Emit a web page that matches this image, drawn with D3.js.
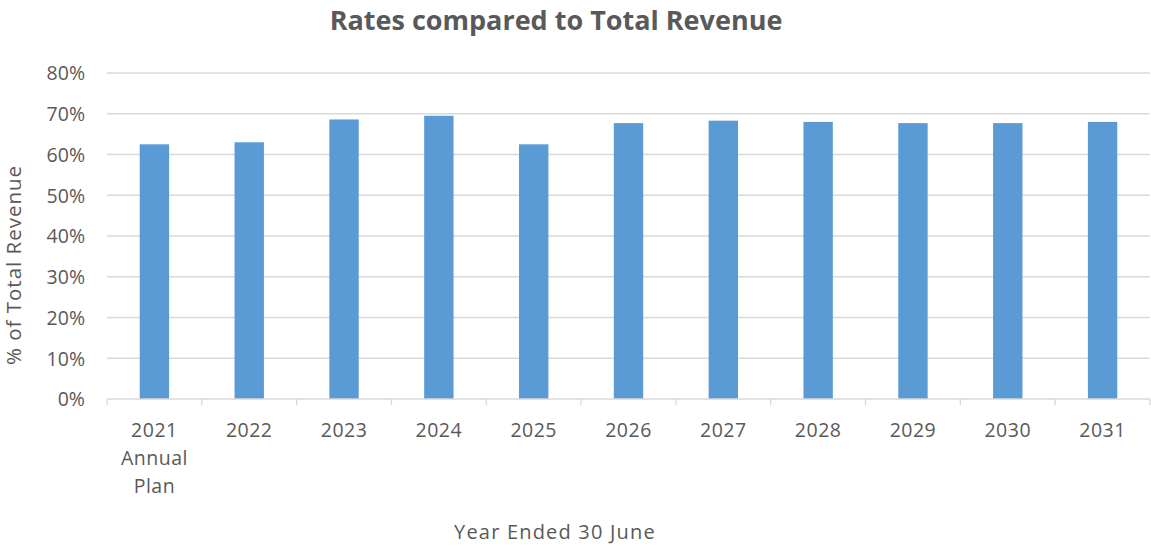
<!DOCTYPE html>
<html>
<head>
<meta charset="utf-8">
<script src="https://cdn.jsdelivr.net/npm/d3@7/dist/d3.min.js"></script>
<style>
  html, body { margin: 0; padding: 0; background: #fff; }
  svg text { font-family: "Open Sans", Lato, sans-serif; fill: #595959; }
</style>
</head>
<body>
<svg id="chart" width="1151" height="545"></svg>
<script>
// Year labels (multi-line labels split on "\n")
const categories = ["2021\nAnnual\nPlan", "2022", "2023", "2024", "2025", "2026", "2027", "2028", "2029", "2030", "2031"];
// Rates as a share of total revenue (%)
const ratesShare = [62.5, 63.0, 68.6, 69.5, 62.5, 67.7, 68.3, 68.0, 67.7, 67.7, 68.0];
// Y axis ticks (%)
const yTicks = [0, 10, 20, 30, 40, 50, 60, 70, 80];

const svg = d3.select("#chart");
const margin = { left: 107, right: 1, top: 73, bottom: 146 };
const W = 1151, H = 545;
const x0 = margin.left, x1 = W - margin.right;
const y0 = H - margin.bottom, y1 = margin.top;
const FONT = "'Open Sans', Lato, sans-serif";

const x = d3.scaleBand().domain(categories).range([x0, x1]).paddingInner(0.69).paddingOuter(0.345);
const y = d3.scaleLinear().domain([0, 80]).range([y0, y1]);

// Gridlines
svg.append("g")
  .selectAll("line")
  .data(yTicks.filter(t => t > 0))
  .join("line")
  .attr("x1", x0).attr("x2", x1)
  .attr("y1", d => y(d)).attr("y2", d => y(d))
  .attr("stroke", "#d9d9d9").attr("stroke-width", 1.3);

// Bars
svg.append("g")
  .selectAll("rect")
  .data(ratesShare)
  .join("rect")
  .attr("x", (d, i) => x(categories[i]))
  .attr("width", x.bandwidth())
  .attr("y", d => y(d))
  .attr("height", d => y(0) - y(d))
  .attr("fill", "#5b9bd5");

// Y axis labels
const yAxis = svg.append("g")
  .attr("transform", `translate(${x0 - 22},0)`)
  .call(d3.axisLeft(y).tickValues(yTicks).tickFormat(d => d + "%").tickSize(0).tickPadding(0));
yAxis.select(".domain").remove();
yAxis.selectAll("text").attr("font-size", 19.5).attr("fill", "#595959").attr("font-family", FONT).attr("dy", "0.35em");

// X axis line with tick marks at category boundaries
const xAxisG = svg.append("g");
xAxisG.append("line")
  .attr("x1", x0).attr("x2", x1).attr("y1", y0).attr("y2", y0)
  .attr("stroke", "#d9d9d9").attr("stroke-width", 1.3);
const boundaries = d3.range(categories.length + 1).map(i => x0 + i * (x1 - x0) / categories.length);
xAxisG.selectAll("line.tick")
  .data(boundaries)
  .join("line")
  .attr("class", "tick")
  .attr("x1", d => d).attr("x2", d => d)
  .attr("y1", y0).attr("y2", y0 + 6)
  .attr("stroke", "#d9d9d9").attr("stroke-width", 1.3);

// X category labels
const lbl = xAxisG.selectAll("text.cat")
  .data(categories)
  .join("text")
  .attr("class", "cat")
  .attr("x", d => x(d) + x.bandwidth() / 2)
  .attr("y", y0 + 38)
  .attr("text-anchor", "middle")
  .attr("font-size", 19.5)
  .attr("letter-spacing", 0.5);
lbl.each(function (d) {
  const t = d3.select(this);
  d.split("\n").forEach((line, i) => {
    t.append("tspan")
      .attr("x", t.attr("x"))
      .attr("dy", i === 0 ? 0 : 28)
      .text(line);
  });
});

// Title
svg.append("text")
  .attr("x", 556).attr("y", 30)
  .attr("text-anchor", "middle")
  .attr("font-size", 27).attr("font-weight", "bold")
  .text("Rates compared to Total Revenue");

// Axis titles
svg.append("text")
  .attr("transform", `translate(21,265) rotate(-90)`)
  .attr("text-anchor", "middle")
  .attr("font-size", 20.5)
  .attr("letter-spacing", 1)
  .text("% of Total Revenue");

svg.append("text")
  .attr("x", 555).attr("y", 539)
  .attr("text-anchor", "middle")
  .attr("font-size", 20)
  .attr("letter-spacing", 1.2)
  .text("Year Ended 30 June");
</script>
</body>
</html>
